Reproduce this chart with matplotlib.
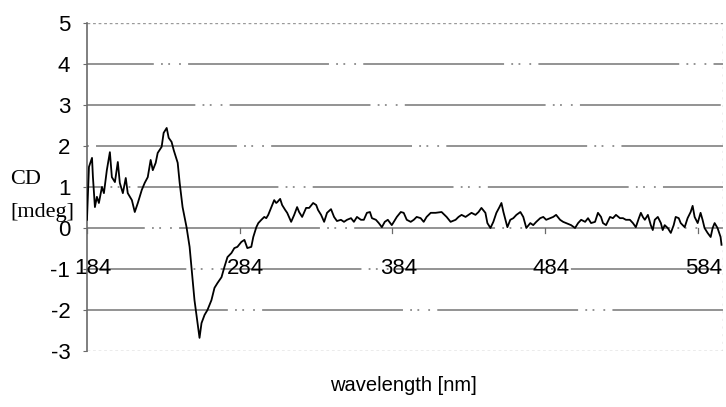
import numpy as np
import matplotlib.pyplot as plt

# CD spectrum read point by point: wavelength [nm] and ellipticity [mdeg]
wavelength = [
    184.0, 185.3, 187.3, 187.9, 189.2, 190.5, 191.8, 193.8, 195.1, 197.0,
    199.0, 200.3, 202.3, 204.2, 205.5, 207.5, 209.4, 210.7, 213.4, 215.3,
    217.3, 219.9, 221.8, 223.8, 225.7, 227.1, 229.0, 230.3, 232.9, 234.2,
    236.2, 237.5, 239.4, 240.8, 243.4, 244.7, 246.6, 249.2, 251.2, 254.4,
    256.4, 257.7, 259.0, 261.0, 262.9, 265.5, 267.5, 269.5, 272.1, 274.0,
    276.0, 278.6, 280.5, 282.5, 285.1, 287.1, 289.0, 291.6, 292.9, 294.9,
    296.2, 298.2, 300.1, 301.4, 302.7, 304.0, 305.3, 306.6, 307.9, 308.6,
    310.5, 311.8, 313.8, 315.1, 317.7, 319.7, 321.6, 322.9, 324.9, 327.5,
    329.5, 332.1, 334.1, 335.3, 337.3, 339.3, 341.2, 343.8, 345.8, 347.7,
    350.3, 352.3, 354.3, 356.9, 358.8, 360.8, 363.4, 365.3, 367.3, 369.3,
    370.6, 373.2, 375.1, 377.1, 379.0, 381.0, 383.6, 384.9, 386.9, 389.5,
    391.4, 393.4, 396.0, 398.0, 399.9, 402.5, 404.5, 406.4, 409.1, 412.3,
    416.2, 419.5, 422.1, 425.4, 427.3, 429.3, 431.9, 433.8, 435.8, 438.4,
    440.4, 442.3, 444.9, 446.2, 448.2, 450.1, 452.1, 454.1, 455.4, 456.7,
    458.0, 459.3, 461.2, 463.2, 465.2, 467.8, 469.7, 471.7, 474.3, 476.2,
    478.2, 480.8, 482.8, 484.7, 487.3, 489.3, 491.2, 493.8, 495.8, 497.8,
    501.0, 503.6, 505.6, 507.6, 510.2, 512.1, 514.1, 516.7, 518.6, 520.6,
    521.9, 523.9, 526.5, 528.4, 530.4, 533.0, 535.0, 536.9, 539.5, 541.5,
    543.4, 545.4, 546.7, 548.0, 549.3, 551.3, 553.2, 554.5, 555.8, 557.8,
    559.8, 561.0, 562.3, 564.3, 566.3, 568.2, 569.5, 571.5, 572.8, 575.4,
    577.3, 579.3, 580.6, 581.9, 583.9, 585.8, 587.1, 588.4, 590.4, 592.4,
    593.7, 595.0, 596.9, 598.9, 599.5,
]
cd_mdeg = [
    0.20, 1.49, 1.71, 1.24, 0.51, 0.76, 0.61, 1.00, 0.85, 1.41,
    1.85, 1.24, 1.12, 1.61, 1.10, 0.85, 1.22, 0.85, 0.68, 0.39,
    0.61, 0.93, 1.10, 1.24, 1.66, 1.41, 1.59, 1.83, 1.98, 2.32,
    2.44, 2.20, 2.10, 1.90, 1.59, 1.10, 0.51, 0.02, -0.46, -1.76,
    -2.32, -2.68, -2.32, -2.12, -2.00, -1.76, -1.46, -1.34, -1.20, -0.95,
    -0.71, -0.61, -0.49, -0.46, -0.34, -0.29, -0.49, -0.46, -0.22, 0.02,
    0.12, 0.20, 0.27, 0.24, 0.32, 0.44, 0.56, 0.68, 0.61, 0.63,
    0.71, 0.56, 0.44, 0.37, 0.15, 0.32, 0.51, 0.39, 0.27, 0.49,
    0.49, 0.61, 0.56, 0.44, 0.32, 0.15, 0.37, 0.46, 0.27, 0.17,
    0.20, 0.15, 0.20, 0.24, 0.15, 0.27, 0.20, 0.20, 0.37, 0.39,
    0.24, 0.20, 0.12, 0.02, 0.15, 0.20, 0.07, 0.15, 0.27, 0.39,
    0.37, 0.20, 0.15, 0.20, 0.27, 0.24, 0.15, 0.27, 0.37, 0.37,
    0.39, 0.27, 0.15, 0.20, 0.27, 0.32, 0.27, 0.32, 0.37, 0.32,
    0.39, 0.49, 0.37, 0.12, 0.00, 0.15, 0.37, 0.51, 0.61, 0.39,
    0.20, 0.02, 0.20, 0.24, 0.32, 0.39, 0.27, 0.00, 0.12, 0.07,
    0.15, 0.24, 0.27, 0.20, 0.24, 0.27, 0.32, 0.20, 0.15, 0.12,
    0.07, 0.00, 0.12, 0.20, 0.15, 0.24, 0.12, 0.15, 0.37, 0.27,
    0.12, 0.07, 0.27, 0.24, 0.32, 0.24, 0.24, 0.20, 0.20, 0.12,
    0.02, 0.24, 0.37, 0.27, 0.20, 0.32, 0.07, -0.05, 0.20, 0.27,
    0.12, -0.05, 0.07, 0.00, -0.12, 0.07, 0.27, 0.24, 0.12, 0.02,
    0.24, 0.39, 0.54, 0.27, 0.12, 0.37, 0.20, 0.00, -0.12, -0.22,
    0.00, 0.12, 0.00, -0.22, -0.41,
]

y_ticks = [-3, -2, -1, 0, 1, 2, 3, 4, 5]
x_ticks = [184, 284, 384, 484, 584]
grid_levels = [-2, -1, 0, 1, 2, 3, 4]

sans = "Liberation Sans"
serif = "Liberation Serif"

fig = plt.figure(figsize=(7.26, 4.07), dpi=100)
ax = fig.add_axes([0.1198, 0.1376, 0.8761, 0.8059])

ax.set_xlim(184, 600.5)
ax.set_ylim(-3, 5)

# broken grey gridlines, each with its own dash phase
for i, lev in enumerate(grid_levels):
    ax.axhline(lev, color="#8a8a8a", lw=1.3,
               linestyle=(i * 23, (78, 4, 1, 3, 1, 5, 1, 4)), zorder=1)
# dotted frame lines at top and bottom
for lev in (y_ticks[0], y_ticks[-1]):
    ax.axhline(lev, color="#9a9a9a", lw=1.0, linestyle=(0, (2, 2)), zorder=1)
ax.axvline(600.5, color="#aaaaaa", lw=1.0, linestyle=(0, (1.5, 4)), zorder=1)

ax.plot(wavelength, cd_mdeg, color="black", lw=1.3, zorder=3)

for side in ("top", "right", "bottom"):
    ax.spines[side].set_visible(False)
ax.spines["left"].set_color("#6a6a6a")
ax.spines["left"].set_linewidth(1.2)

ax.set_yticks(y_ticks)
ax.set_yticklabels([str(v) for v in y_ticks], fontfamily=sans, fontsize=16)
ax.tick_params(axis="y", length=3, width=0.8, color="#6a6a6a", pad=9)

# x axis sits on the zero line, labels drop to the -1 level
ax.set_xticks([])
for t in x_ticks:
    ax.plot([t, t], [0, -0.12], color="#6a6a6a", lw=0.9, zorder=2)
    ax.text(t + 4, -1, str(t), ha="center", va="center",
            fontfamily=sans, fontsize=16, zorder=4)

fig.text(0.014, 0.558, "CD", fontfamily=serif, fontsize=16, va="center", ha="left")
fig.text(0.014, 0.477, "[mdeg]", fontfamily=serif, fontsize=16, va="center", ha="left")
fig.text(0.556, 0.054, "wavelength [nm]", fontfamily=sans, fontsize=14.5,
         ha="center", va="center")

fig.savefig("out.png", dpi=100)
